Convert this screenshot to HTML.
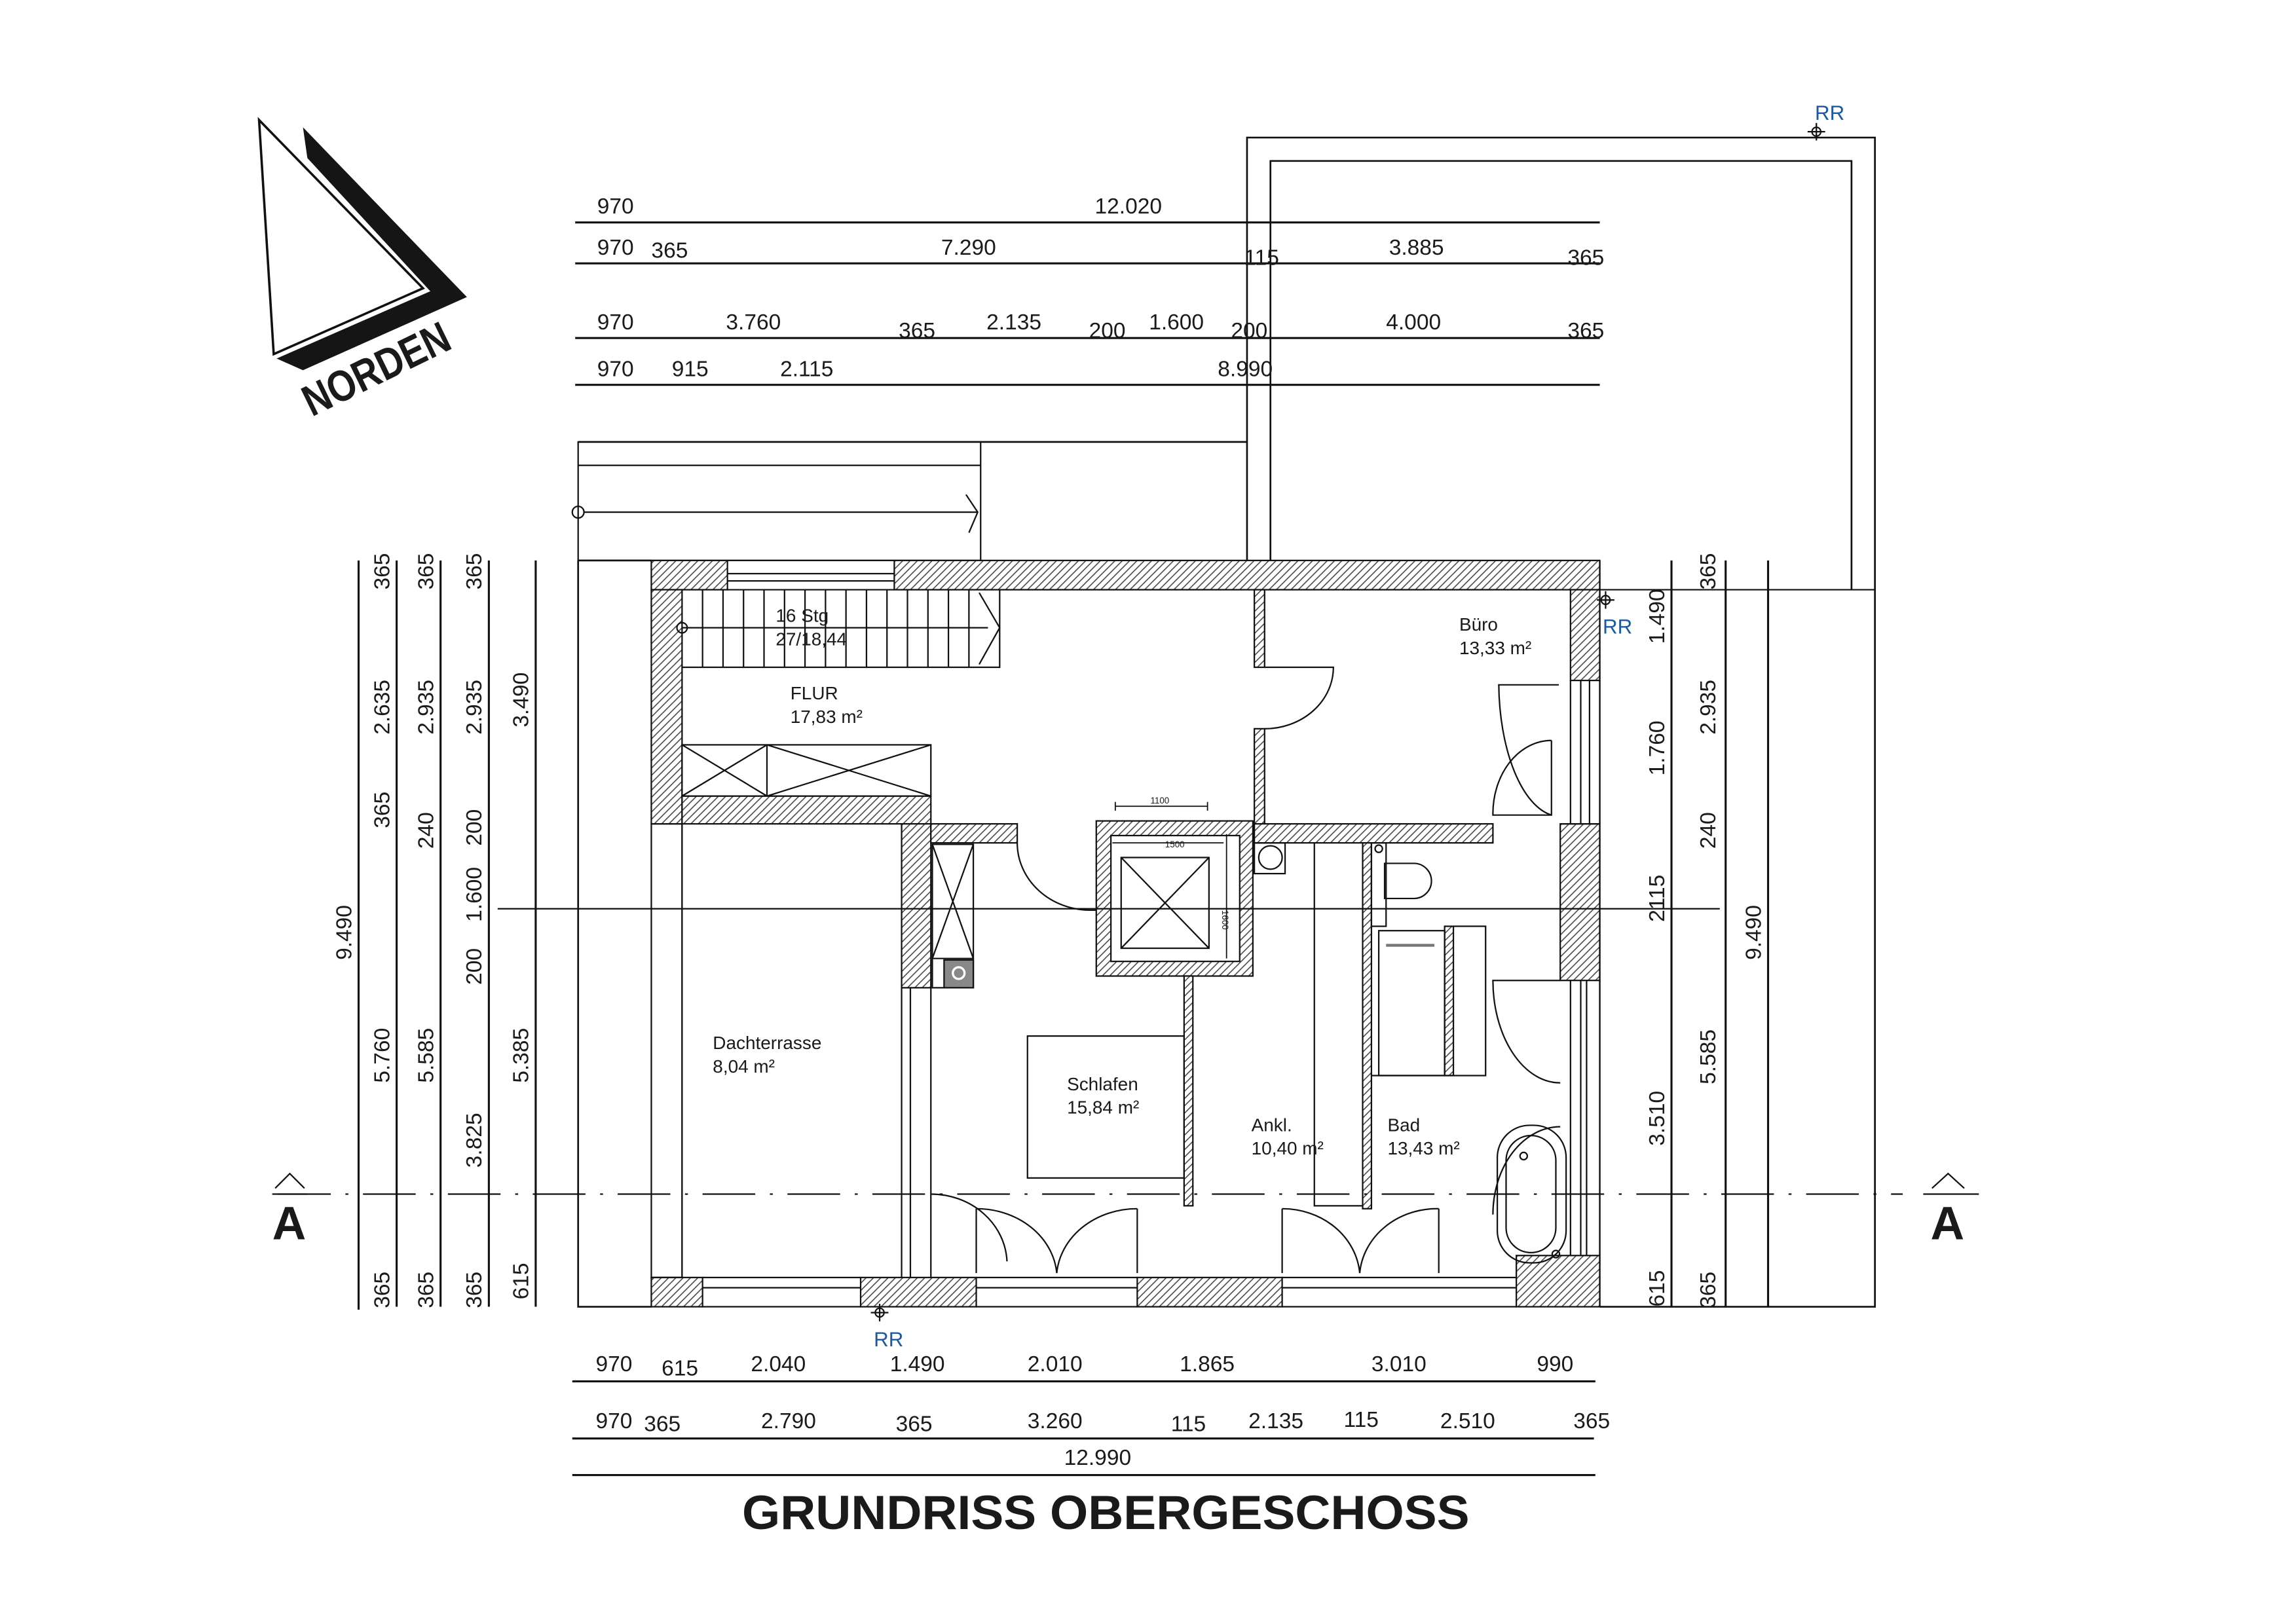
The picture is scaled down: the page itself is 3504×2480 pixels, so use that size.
<!DOCTYPE html>
<html><head><meta charset="utf-8"><style>
html,body{margin:0;padding:0;background:#fff;}
svg{display:block;}
text{font-family:"Liberation Sans",sans-serif;fill:#1a1a1a;}
.d{font-size:15px;}
.r{font-size:12.5px;}
</style></head><body>
<svg xmlns="http://www.w3.org/2000/svg" width="3504" height="2480" viewBox="0 0 1568 1109.8" preserveAspectRatio="none">
<defs>
<pattern id="h" patternUnits="userSpaceOnUse" width="5" height="5">
<rect width="5" height="5" fill="#fff"/>
<path d="M-1,6 L6,-1 M-1,1 L1,-1 M4,6 L6,4" stroke="#444" stroke-width="0.7"/>
</pattern>
</defs>
<rect width="1568" height="1110" fill="#fff"/>

<!-- North symbol -->
<polygon points="177,82 289,197 187,242" fill="none" stroke="#111" stroke-width="1.6"/>
<polygon points="207,87 319,203 207,253 189,245 294,199 210,108" fill="#151515"/>
<text x="213" y="285" font-size="30" font-weight="bold" transform="rotate(-26 213 285)" textLength="108" lengthAdjust="spacingAndGlyphs">NORDEN</text>

<g stroke="#111" fill="none">
<!-- outer terrace outline -->
<path d="M852,383 V94 H1281 V893 H1093" stroke-width="1.2"/>
<path d="M868,383 V110 H1265 V403" stroke-width="1.2"/>
<path d="M1093,403 H1281" stroke-width="1"/>
<!-- left adjacent -->
<path d="M395,302 H852" stroke-width="1.2"/>
<rect x="395" y="302" width="275" height="81" stroke-width="1"/>
<path d="M395,318 H670" stroke-width="1"/>
<path d="M399,350 H668 M660,338 L668,350 L662,364" stroke-width="1"/>
<circle cx="395" cy="350" r="4" stroke-width="1"/>
<path d="M395,383 H445 M395,383 V893 H445" stroke-width="1.2"/>
</g>

<!-- hatched walls -->
<g fill="url(#h)" stroke="#111" stroke-width="1">
<rect x="445" y="383" width="52" height="20"/>
<rect x="611" y="383" width="482" height="20"/>
<rect x="445" y="403" width="21" height="160"/>
<rect x="445" y="563" width="21" height="0"/>
<rect x="1073" y="403" width="20" height="62"/>
<rect x="1066" y="563" width="27" height="107"/>
<rect x="445" y="873" width="35" height="20"/>
<rect x="588" y="873" width="79" height="20"/>
<rect x="777" y="873" width="99" height="20"/>
<rect x="1036" y="858" width="57" height="35"/>
<rect x="466" y="544" width="170" height="19"/>
<rect x="616" y="563" width="20" height="112"/>
<rect x="636" y="563" width="59" height="13"/>
<rect x="857" y="403" width="7" height="53"/>
<rect x="857" y="498" width="7" height="78"/>
<rect x="857" y="563" width="163" height="13"/>
<rect x="749" y="561" width="107" height="106"/>
<rect x="809" y="667" width="6" height="157"/>
<rect x="931" y="576" width="6" height="250"/>
<rect x="987" y="633" width="6" height="102"/>
</g>
<g stroke="#111" fill="none" stroke-width="1">
<rect x="445" y="563" width="21" height="310"/>
<path d="M466,563 V873 M616,675 V873 M622,675 V873 M636,675 V873"/>
<!-- windows -->
<path d="M497,383 H611 M497,392 H611 M497,397 H611 M497,403 H611"/>
<path d="M1073,465 V563 M1080,465 V563 M1086,465 V563 M1093,465 V563 M1066,563 H1093"/>
<path d="M1073,670 V858 M1080,670 V858 M1084,670 V858 M1093,670 V858"/>
<path d="M480,873 H588 M480,880 H588 M480,893 H588"/>
<path d="M667,873 H777 M667,880 H777 M667,893 H777"/>
<path d="M876,873 H1036 M876,880 H1036 M876,893 H1036"/>
<path d="M1093,383 V893"/>
<!-- elevator -->
<rect x="759" y="571" width="88" height="86" fill="#fff"/>
<rect x="766" y="586" width="60" height="62"/>
<path d="M766,586 L826,648 M826,586 L766,648"/>
<path d="M762,551 H825 M762,548 V554 M825,548 V554" stroke-width="0.8"/>
<path d="M760,576 H836 M838,570 V655" stroke-width="0.8"/>
<!-- stairs -->
<path d="M466,456 H683 V403"/>
<path d="M466,429 H675"/>
<circle cx="466" cy="429" r="3.5"/>
<path d="M480,403 V456 M494,403 V456 M508,403 V456 M522,403 V456 M536,403 V456 M550,403 V456 M564,403 V456 M578,403 V456 M592,403 V456 M606,403 V456 M620,403 V456 M634,403 V456 M648,403 V456 M662,403 V456"/>
<path d="M669,405 L683,429 L669,454"/>
<!-- closet -->
<rect x="466" y="509" width="170" height="35"/>
<path d="M524,509 V544 M466,509 L524,544 M524,509 L466,544 M524,509 L636,544 M636,509 L524,544"/>
<!-- shaft -->
<rect x="637" y="577" width="28" height="98"/>
<path d="M637,577 L665,655 M665,577 L637,655 M637,655 H665"/>
<rect x="645" y="656" width="20" height="19" fill="#888"/>
<circle cx="655" cy="665" r="4" stroke="#fff" stroke-width="1.5"/>
<!-- doors -->
<path d="M864,456 H911 A47,42 0 0 1 864,498"/>
<path d="M695,576 A50,46 0 0 0 745,622 M745,622 H749"/>
<path d="M1065,468 H1024 A42,92 0 0 0 1060,557"/>
<path d="M1060,506 V557 H1020 A40,50 0 0 1 1060,506"/>
<path d="M1066,670 H1020 A46,70 0 0 0 1066,740"/>
<path d="M1066,770 A46,60 0 0 0 1020,830"/>
<path d="M667,826 V870 M667,826 A55,48 0 0 1 722,870"/>
<path d="M777,826 V870 M777,826 A55,48 0 0 0 722,870"/>
<path d="M876,826 V870 M876,826 A53,48 0 0 1 929,870"/>
<path d="M983,826 V870 M983,826 A53,48 0 0 0 929,870"/>
<path d="M636,816 A52,48 0 0 1 688,862"/>
<!-- bed -->
<rect x="702" y="708" width="107" height="97"/>
<!-- ankl line -->
<path d="M898,576 V824 H931"/>
<!-- bath fittings -->
<rect x="942" y="636" width="45" height="99"/>
<path d="M947,646 H980" stroke-width="2" stroke="#777"/>
<path d="M993,633 H1015 V735 H937"/>
<path d="M946,590 H966 A12,12 0 0 1 966,614 H946 Z"/>
<rect x="937" y="576" width="10" height="57"/>
<circle cx="942" cy="580" r="2.5"/>
<rect x="857" y="576" width="21" height="21"/>
<circle cx="868" cy="586" r="8"/>
<rect x="1023" y="769" width="47" height="94" rx="22"/>
<rect x="1029" y="776" width="34" height="80" rx="17"/>
<circle cx="1041" cy="790" r="2.5"/>
<circle cx="1063" cy="857" r="2.5"/>
<!-- section / axis lines -->
<path d="M340,621 H1175"/>
<path d="M190,816 H1300" stroke-dasharray="36,10,2,10"/>
<path d="M1314,816 H1352 M1320,812 L1331,802 L1342,812" />
<path d="M186,816 H210 M188,812 L198,802 L208,812"/>
</g>

<!-- section labels -->
<text x="186" y="847" font-size="32" font-weight="bold">A</text>
<text x="1319" y="847" font-size="32" font-weight="bold">A</text>

<!-- RR markers -->
<g stroke="#111" stroke-width="1" fill="none">
<circle cx="1241" cy="90" r="3"/><path d="M1235,90 H1247 M1241,84 V96"/>
<circle cx="1097" cy="410" r="3"/><path d="M1091,410 H1103 M1097,404 V416"/>
<circle cx="601" cy="897" r="3"/><path d="M595,897 H607 M601,891 V903"/>
</g>
<g font-size="14" style="fill:#1e5aa0">
<text x="1240" y="82" style="fill:#1e5aa0">RR</text>
<text x="1095" y="433" style="fill:#1e5aa0">RR</text>
<text x="597" y="920" style="fill:#1e5aa0">RR</text>
</g>

<!-- dimension lines -->
<g stroke="#111" stroke-width="1.4" fill="none">
<path d="M393,152 H1093 M393,180 H1093 M393,231 H1093 M393,263 H1093"/>
<path d="M391,944 H1090 M391,983 H1089 M391,1008 H1090"/>
<path d="M245,383 V895 M271,383 V893 M301,383 V893 M334,383 V893 M366,383 V893"/>
<path d="M1142,383 V893 M1179,383 V893 M1208,383 V893"/>
</g>
<g id="ticks" stroke="#111" stroke-width="1.1"></g>

<!-- top dim texts -->
<g class="d">
<text x="408" y="146">970</text><text x="748" y="146">12.020</text>
<text x="408" y="174">970</text><text x="445" y="176">365</text><text x="643" y="174">7.290</text><text x="850" y="181">115</text><text x="949" y="174">3.885</text><text x="1071" y="181">365</text>
<text x="408" y="225">970</text><text x="496" y="225">3.760</text><text x="614" y="231">365</text><text x="674" y="225">2.135</text><text x="744" y="231">200</text><text x="785" y="225">1.600</text><text x="841" y="231">200</text><text x="947" y="225">4.000</text><text x="1071" y="231">365</text>
<text x="408" y="257">970</text><text x="459" y="257">915</text><text x="533" y="257">2.115</text><text x="832" y="257">8.990</text>
</g>
<!-- bottom dim texts -->
<g class="d">
<text x="407" y="937">970</text><text x="452" y="940">615</text><text x="513" y="937">2.040</text><text x="608" y="937">1.490</text><text x="702" y="937">2.010</text><text x="806" y="937">1.865</text><text x="937" y="937">3.010</text><text x="1050" y="937">990</text>
<text x="407" y="976">970</text><text x="440" y="978">365</text><text x="520" y="976">2.790</text><text x="612" y="978">365</text><text x="702" y="976">3.260</text><text x="800" y="978">115</text><text x="853" y="976">2.135</text><text x="918" y="975">115</text><text x="984" y="976">2.510</text><text x="1075" y="976">365</text>
<text x="727" y="1001">12.990</text>
</g>
<text x="507" y="1045" font-size="33" font-weight="bold" textLength="497" lengthAdjust="spacingAndGlyphs">GRUNDRISS OBERGESCHOSS</text>

<!-- left vertical dim texts -->
<g class="d">
<text transform="translate(240,656) rotate(-90)">9.490</text>
<text transform="translate(266,403) rotate(-90)">365</text>
<text transform="translate(266,502) rotate(-90)">2.635</text>
<text transform="translate(266,566) rotate(-90)">365</text>
<text transform="translate(266,740) rotate(-90)">5.760</text>
<text transform="translate(266,894) rotate(-90)">365</text>
<text transform="translate(296,403) rotate(-90)">365</text>
<text transform="translate(296,502) rotate(-90)">2.935</text>
<text transform="translate(296,580) rotate(-90)">240</text>
<text transform="translate(296,740) rotate(-90)">5.585</text>
<text transform="translate(296,894) rotate(-90)">365</text>
<text transform="translate(329,403) rotate(-90)">365</text>
<text transform="translate(329,502) rotate(-90)">2.935</text>
<text transform="translate(329,578) rotate(-90)">200</text>
<text transform="translate(329,630) rotate(-90)">1.600</text>
<text transform="translate(329,673) rotate(-90)">200</text>
<text transform="translate(329,798) rotate(-90)">3.825</text>
<text transform="translate(329,894) rotate(-90)">365</text>
<text transform="translate(361,497) rotate(-90)">3.490</text>
<text transform="translate(361,740) rotate(-90)">5.385</text>
<text transform="translate(361,888) rotate(-90)">615</text>
</g>
<!-- right vertical dim texts -->
<g class="d">
<text transform="translate(1137,440) rotate(-90)">1.490</text>
<text transform="translate(1137,530) rotate(-90)">1.760</text>
<text transform="translate(1137,630) rotate(-90)">2115</text>
<text transform="translate(1137,783) rotate(-90)">3.510</text>
<text transform="translate(1137,893) rotate(-90)">615</text>
<text transform="translate(1172,403) rotate(-90)">365</text>
<text transform="translate(1172,502) rotate(-90)">2.935</text>
<text transform="translate(1172,580) rotate(-90)">240</text>
<text transform="translate(1172,741) rotate(-90)">5.585</text>
<text transform="translate(1172,894) rotate(-90)">365</text>
<text transform="translate(1203,656) rotate(-90)">9.490</text>
</g>

<!-- room labels -->
<g class="r">
<text x="530" y="425">16 Stg</text><text x="530" y="441">27/18,44</text>
<text x="540" y="478">FLUR</text><text x="540" y="494">17,83 m²</text>
<text x="997" y="431">Büro</text><text x="997" y="447">13,33 m²</text>
<text x="487" y="717">Dachterrasse</text><text x="487" y="733">8,04 m²</text>
<text x="729" y="745">Schlafen</text><text x="729" y="761">15,84 m²</text>
<text x="855" y="773">Ankl.</text><text x="855" y="789">10,40 m²</text>
<text x="948" y="773">Bad</text><text x="948" y="789">13,43 m²</text>
</g>
<g font-size="6">
<text x="786" y="549">1100</text><text x="796" y="579">1500</text>
<text transform="translate(835,622) rotate(90)">1600</text>
</g>

<script>
(function(){
var g=document.getElementById('ticks'),s='';
function h(y,xs){xs.forEach(function(x){s+='<path d="M'+(x-2)+','+(y+5)+' L'+(x+2)+','+(y-5)+'"/>';});}
function v(x,ys){ys.forEach(function(y){s+='<path d="M'+(x-5)+','+(y+2)+' L'+(x+5)+','+(y-2)+'"/>';});}
h(152,[393,445,1093]);h(180,[393,445,466,853,859,1073,1093]);
h(231,[393,414,446,615,634,746,760,842,858,1072,1091]);h(263,[393,445,481,610,1093]);
h(944,[391,443,477,587,667,774,875,1036,1090]);h(983,[391,444,464,614,634,808,814,929,935,1069,1089]);h(1008,[391,1090]);
v(245,[383,895]);v(271,[383,403,563,873,893]);v(301,[383,403,563,576,873,893]);v(334,[383,403,563,576,648,665,873,893]);v(366,[383,570,862,893]);
v(1142,[383,403,463,557,670,858,893]);v(1179,[383,403,561,573,872,893]);v(1208,[383,893]);
g.innerHTML=s;
})();
</script>
</svg>
</body></html>
